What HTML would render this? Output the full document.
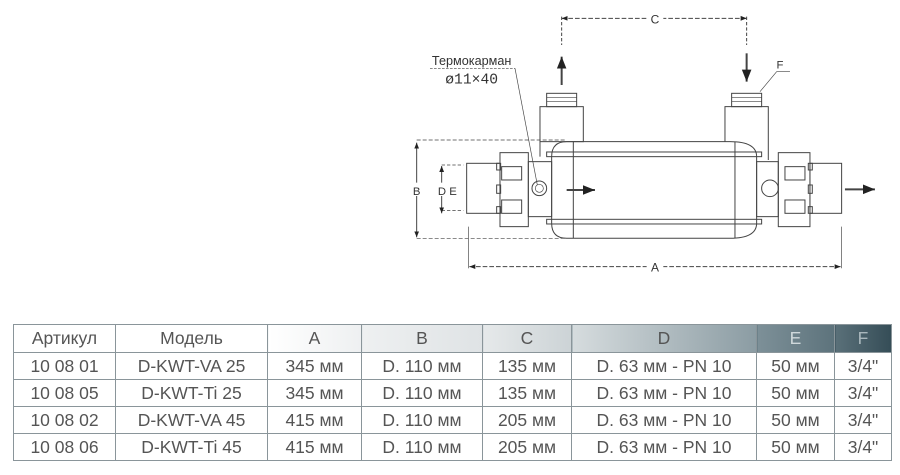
<!DOCTYPE html>
<html><head><meta charset="utf-8"><style>
body{margin:0;width:900px;height:475px;background:#fff;overflow:hidden;position:relative;font-family:"Liberation Sans",sans-serif}
svg{position:absolute;left:0;top:0}
table{position:absolute;left:13px;top:324px;border-collapse:collapse;table-layout:fixed;width:878px;font-size:17.5px;color:#555}
td{border:1px solid #8a959a;text-align:center;padding:0;white-space:nowrap;height:26px;overflow:hidden}
tr.h td{height:27px}
</style></head><body>
<svg width="900" height="320" viewBox="0 0 900 320">
<defs><marker id="a" viewBox="0 0 10 10" refX="10" refY="5" markerWidth="6" markerHeight="6" orient="auto-start-reverse"><path d="M0,1 L10,5 L0,9z" fill="#222"/></marker></defs>
<g transform="translate(400,0) scale(0.3333)" fill="none" stroke="#444" stroke-width="3" font-family="Liberation Sans,sans-serif">
<line x1="485" y1="55" x2="1040" y2="55" stroke-dasharray="14 6" marker-start="url(#a)" marker-end="url(#a)"/>
<line x1="485" y1="50" x2="485" y2="135" stroke-dasharray="10 6"/>
<line x1="1040" y1="50" x2="1040" y2="135" stroke-dasharray="10 6"/>
<rect x="740" y="35" width="50" height="40" fill="#fff" stroke="none"/>
<text x="765" y="70" font-size="36" fill="#333" stroke="none" text-anchor="middle">C</text>
<line x1="485" y1="255" x2="485" y2="170" stroke-width="6" marker-end="url(#a)"/>
<line x1="1040" y1="160" x2="1040" y2="245" stroke-width="6" marker-end="url(#a)"/>
<text x="215" y="195" font-size="38" fill="#333" stroke="none" text-anchor="middle">Термокарман</text>
<line x1="90" y1="205" x2="345" y2="205" stroke-width="2" stroke-dasharray="8 4"/>
<text x="215" y="250" font-size="44" fill="#333" stroke="none" text-anchor="middle" font-family="Liberation Mono,monospace">ø11×40</text>
<line x1="345" y1="205" x2="412" y2="555" stroke-width="2"/>
<text x="1140" y="205" font-size="34" fill="#333" stroke="none" text-anchor="middle">F</text>
<polyline points="1170,215 1130,215 1080,275" stroke-width="2"/>
<rect x="440" y="280" width="90" height="40"/>
<line x1="440" y1="292" x2="530" y2="292" stroke-width="2"/><line x1="440" y1="304" x2="530" y2="304" stroke-width="2"/>
<rect x="420" y="320" width="130" height="105"/>
<rect x="995" y="280" width="90" height="40"/>
<line x1="995" y1="292" x2="1085" y2="292" stroke-width="2"/><line x1="995" y1="304" x2="1085" y2="304" stroke-width="2"/>
<path d="M975,425 V320 H1105 V480"/>
<path d="M420,425 V470"/>
<path d="M500,425 H990 Q1070,425 1070,470 V670 Q1070,715 990,715 H500 Q455,715 455,670 V470 Q455,425 500,425Z"/>
<line x1="520" y1="425" x2="520" y2="715"/>
<line x1="1005" y1="425" x2="1005" y2="715"/>
<rect x="440" y="456" width="645" height="14"/>
<rect x="440" y="658" width="645" height="14"/>
<rect x="385" y="485" width="70" height="165"/>
<circle cx="418" cy="565" r="22"/><circle cx="418" cy="565" r="12" stroke-width="2"/>
<rect x="300" y="458" width="85" height="222"/>
<rect x="305" y="500" width="60" height="40"/><rect x="305" y="600" width="60" height="40"/>
<rect x="200" y="490" width="100" height="150"/>
<rect x="290" y="490" width="12" height="20"/><rect x="290" y="555" width="12" height="25"/><rect x="290" y="620" width="12" height="20"/>
<rect x="1070" y="485" width="65" height="165"/>
<circle cx="1110" cy="565" r="25"/>
<rect x="1135" y="458" width="95" height="222"/>
<rect x="1155" y="500" width="60" height="40"/><rect x="1155" y="600" width="60" height="40"/>
<rect x="1230" y="490" width="95" height="150"/>
<rect x="1225" y="490" width="12" height="20"/><rect x="1225" y="555" width="12" height="25"/><rect x="1225" y="620" width="12" height="20"/>
<line x1="500" y1="570" x2="585" y2="570" stroke-width="6" marker-end="url(#a)"/>
<line x1="1335" y1="568" x2="1425" y2="568" stroke-width="6" marker-end="url(#a)"/>
<line x1="50" y1="420" x2="500" y2="420" stroke-width="2" stroke-dasharray="12 6"/>
<line x1="50" y1="715" x2="500" y2="715" stroke-width="2" stroke-dasharray="12 6"/>
<line x1="50" y1="428" x2="50" y2="712" marker-start="url(#a)" marker-end="url(#a)"/>
<rect x="30" y="548" width="40" height="40" fill="#fff" stroke="none"/>
<text x="50" y="585" font-size="34" fill="#333" stroke="none" text-anchor="middle">B</text>
<line x1="125" y1="495" x2="190" y2="495" stroke-width="2" stroke-dasharray="10 6"/>
<line x1="125" y1="632" x2="190" y2="632" stroke-width="2" stroke-dasharray="10 6"/>
<line x1="125" y1="498" x2="125" y2="640" marker-start="url(#a)" marker-end="url(#a)"/>
<rect x="105" y="548" width="70" height="40" fill="#fff" stroke="none"/>
<text x="142" y="585" font-size="34" fill="#333" stroke="none" text-anchor="middle">D E</text>
<line x1="205" y1="680" x2="205" y2="805" stroke-width="2"/>
<line x1="1325" y1="680" x2="1325" y2="805" stroke-width="2"/>
<line x1="208" y1="800" x2="1322" y2="800" stroke-dasharray="14 6" marker-start="url(#a)" marker-end="url(#a)"/>
<rect x="740" y="780" width="50" height="40" fill="#fff" stroke="none"/>
<text x="765" y="815" font-size="36" fill="#333" stroke="none" text-anchor="middle">A</text>
</g></svg>
<table>
<colgroup><col style="width:102px"><col style="width:152px"><col style="width:94px"><col style="width:121px"><col style="width:89px"><col style="width:185px"><col style="width:78px"><col style="width:57px"></colgroup>
<tr class="h"><td>Артикул</td><td>Модель</td>
<td style="background:linear-gradient(90deg,#fff,#eef0f1)">A</td>
<td style="background:linear-gradient(90deg,#eef0f1,#dfe3e5)">B</td>
<td style="background:linear-gradient(90deg,#e6e9ea,#ccd3d6)">C</td>
<td style="background:linear-gradient(90deg,#d6dcde,#8b9ca3)">D</td>
<td style="background:linear-gradient(90deg,#7d9098,#5d737c);color:#cfd8db">E</td>
<td style="background:linear-gradient(90deg,#5a7079,#354d57);color:#a9b7bc">F</td></tr>
<tr><td>10 08 01</td><td>D-KWT-VA 25</td><td>345 мм</td><td>D. 110 мм</td><td>135 мм</td><td>D. 63 мм - PN 10</td><td>50 мм</td><td>3/4"</td></tr>
<tr><td>10 08 05</td><td>D-KWT-Ti 25</td><td>345 мм</td><td>D. 110 мм</td><td>135 мм</td><td>D. 63 мм - PN 10</td><td>50 мм</td><td>3/4"</td></tr>
<tr><td>10 08 02</td><td>D-KWT-VA 45</td><td>415 мм</td><td>D. 110 мм</td><td>205 мм</td><td>D. 63 мм - PN 10</td><td>50 мм</td><td>3/4"</td></tr>
<tr><td>10 08 06</td><td>D-KWT-Ti 45</td><td>415 мм</td><td>D. 110 мм</td><td>205 мм</td><td>D. 63 мм - PN 10</td><td>50 мм</td><td>3/4"</td></tr>
</table>
</body></html>
